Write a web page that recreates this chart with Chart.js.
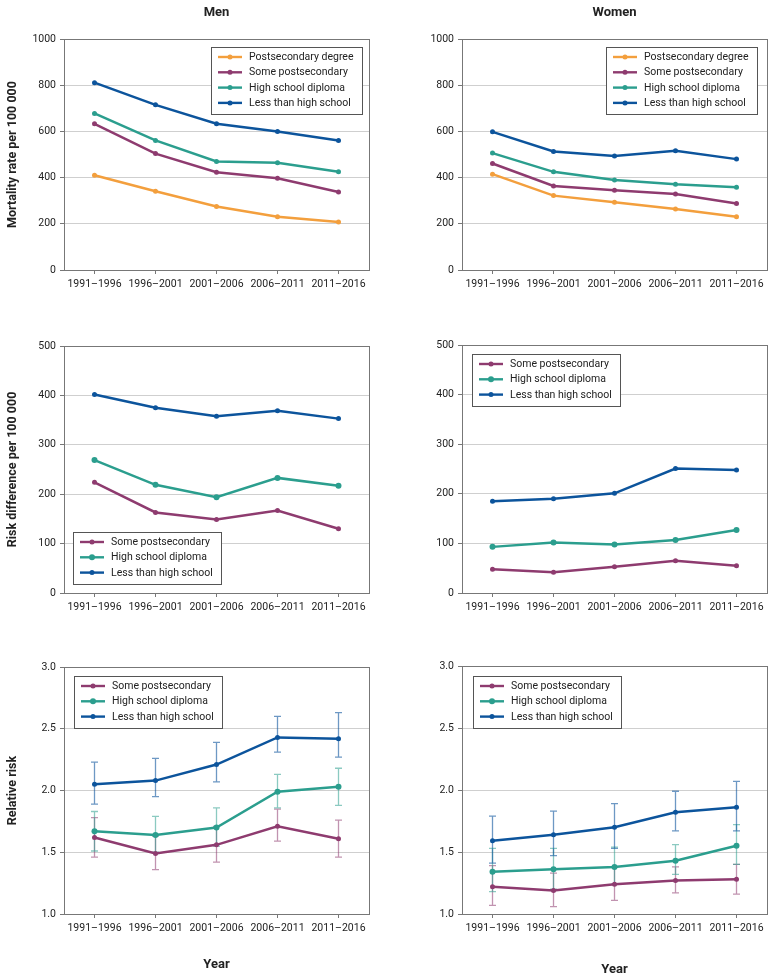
<!DOCTYPE html>
<html>
<head>
<meta charset="utf-8">
<script src="https://cdn.jsdelivr.net/npm/chart.js@4.4.1/dist/chart.umd.min.js"></script>
<style>
  html, body { margin: 0; padding: 0; background: #fff; }
  #page { position: relative; width: 775px; height: 980px; background: #fff; }
  canvas { position: absolute; }
</style>
</head>
<body>
<div id="page">
  <canvas id="menRate" width="385" height="300" style="left:0;top:0"></canvas>
  <canvas id="womenRate" width="390" height="300" style="left:385px;top:0"></canvas>
  <canvas id="menRd" width="385" height="320" style="left:0;top:300px"></canvas>
  <canvas id="womenRd" width="390" height="320" style="left:385px;top:300px"></canvas>
  <canvas id="menRr" width="385" height="360" style="left:0;top:620px"></canvas>
  <canvas id="womenRr" width="390" height="360" style="left:385px;top:620px"></canvas>
</div>
<script>
// Data
const periods = ['1991–1996', '1996–2001', '2001–2006', '2006–2011', '2011–2016'];
const groups = ['Postsecondary degree', 'Some postsecondary', 'High school diploma', 'Less than high school'];
const groupColors = ['#F39F3D', '#8E3B6F', '#2B9E8E', '#0C549C'];
const errColors = ['rgba(243,159,61,0.6)', 'rgba(142,59,111,0.55)', 'rgba(43,158,142,0.55)', 'rgba(12,84,156,0.6)'];

const rateTicks = [0, 200, 400, 600, 800, 1000];
const rdTicks = [0, 100, 200, 300, 400, 500];
const rrTicks = [1.0, 1.5, 2.0, 2.5, 3.0];

// mortality rate per 100 000
const menRateDegree = [410, 341, 275, 231, 208];
const menRateSome = [633, 504, 423, 397, 338];
const menRateHigh = [678, 561, 470, 464, 425];
const menRateLess = [811, 715, 633, 600, 561];
const womenRateDegree = [415, 322, 293, 264, 231];
const womenRateSome = [461, 364, 345, 329, 288];
const womenRateHigh = [506, 425, 390, 371, 358];
const womenRateLess = [598, 513, 494, 516, 480];

// risk difference per 100 000
const menRdSome = [224, 163, 149, 167, 130];
const menRdHigh = [269, 219, 194, 233, 217];
const menRdLess = [402, 375, 358, 369, 353];
const womenRdSome = [48, 42, 53, 65, 55];
const womenRdHigh = [93, 102, 98, 107, 127];
const womenRdLess = [185, 190, 201, 251, 248];

// relative risk with 95% CI
const menRrSome = [1.62, 1.49, 1.56, 1.71, 1.61];
const menRrSomeLo = [1.46, 1.36, 1.42, 1.59, 1.46];
const menRrSomeHi = [1.78, 1.63, 1.71, 1.85, 1.76];
const menRrHigh = [1.67, 1.64, 1.70, 1.99, 2.03];
const menRrHighLo = [1.51, 1.50, 1.55, 1.86, 1.88];
const menRrHighHi = [1.83, 1.79, 1.86, 2.13, 2.18];
const menRrLess = [2.05, 2.08, 2.21, 2.43, 2.42];
const menRrLessLo = [1.89, 1.95, 2.07, 2.31, 2.27];
const menRrLessHi = [2.23, 2.26, 2.39, 2.60, 2.63];
const womenRrSome = [1.22, 1.19, 1.24, 1.27, 1.28];
const womenRrSomeLo = [1.07, 1.06, 1.11, 1.17, 1.16];
const womenRrSomeHi = [1.39, 1.33, 1.38, 1.38, 1.40];
const womenRrHigh = [1.34, 1.36, 1.38, 1.43, 1.55];
const womenRrHighLo = [1.18, 1.20, 1.24, 1.32, 1.40];
const womenRrHighHi = [1.53, 1.53, 1.54, 1.56, 1.72];
const womenRrLess = [1.59, 1.64, 1.70, 1.82, 1.86];
const womenRrLessLo = [1.41, 1.47, 1.53, 1.67, 1.67];
const womenRrLessHi = [1.79, 1.83, 1.89, 1.99, 2.07];

Chart.defaults.font.family = "Roboto, 'Noto Sans', sans-serif";
Chart.defaults.font.size = 10.5;
Chart.defaults.color = '#222';

const AXIS = '#777';

// box round the plot area
const frame = {
  id: 'frame',
  beforeDatasetsDraw(chart) {
    const { ctx, chartArea: a } = chart;
    ctx.save();
    ctx.strokeStyle = AXIS;
    ctx.lineWidth = 1;
    ctx.strokeRect(Math.floor(a.left) + 0.5, Math.floor(a.top) + 0.5,
      Math.round(a.right - a.left), Math.round(a.bottom - a.top));
    ctx.restore();
  }
};

// vertical CI whiskers, placed with the y scale
const errorBars = {
  id: 'errorBars',
  beforeDatasetsDraw(chart) {
    const { ctx } = chart;
    const y = chart.scales.y;
    chart.data.datasets.forEach((ds, i) => {
      if (!ds.errLo) return;
      const meta = chart.getDatasetMeta(i);
      ctx.save();
      ctx.strokeStyle = ds.errColor;
      ctx.lineWidth = 1.3;
      meta.data.forEach((pt, j) => {
        const x = pt.x;
        const y1 = y.getPixelForValue(ds.errLo[j]);
        const y2 = y.getPixelForValue(ds.errHi[j]);
        ctx.beginPath();
        ctx.moveTo(x, y1); ctx.lineTo(x, y2);
        ctx.moveTo(x - 3.5, y1); ctx.lineTo(x + 3.5, y1);
        ctx.moveTo(x - 3.5, y2); ctx.lineTo(x + 3.5, y2);
        ctx.stroke();
      });
      ctx.restore();
    });
  }
};

// boxed legend inside the plot area
const boxLegend = {
  id: 'boxLegend',
  afterDraw(chart, args, opts) {
    if (!opts.corner) return;
    const { ctx, chartArea: a } = chart;
    const sets = chart.data.datasets;
    const rowH = 15.3, padX = 7, lineLen = 24, gap = 7, padY = 10;
    ctx.save();
    ctx.font = "10.5px Roboto, 'Noto Sans', sans-serif";
    const textW = Math.max(...sets.map(d => ctx.measureText(d.label).width));
    const w = Math.round(padX + lineLen + gap + textW + 8);
    const h = Math.round(padY * 2 + (sets.length - 1) * rowH + 1);
    const x = opts.corner[1] === 'r' ? a.right - opts.dx - w : a.left + opts.dx;
    const y = opts.corner[0] === 'b' ? a.bottom - opts.dy - h : a.top + opts.dy;
    ctx.fillStyle = '#fff';
    ctx.fillRect(x, y, w, h);
    ctx.strokeStyle = '#555';
    ctx.lineWidth = 1;
    ctx.strokeRect(Math.floor(x) + 0.5, Math.floor(y) + 0.5, w, h);
    sets.forEach((d, i) => {
      const cy = y + padY + i * rowH;
      ctx.strokeStyle = d.borderColor;
      ctx.lineWidth = 2.4;
      ctx.beginPath();
      ctx.moveTo(x + padX, cy); ctx.lineTo(x + padX + lineLen, cy);
      ctx.stroke();
      ctx.fillStyle = d.borderColor;
      ctx.beginPath();
      ctx.arc(x + padX + lineLen / 2, cy, d.pointRadius, 0, Math.PI * 2);
      ctx.fill();
      ctx.fillStyle = '#222';
      ctx.textBaseline = 'middle';
      ctx.fillText(d.label, x + padX + lineLen + gap, cy + 0.5);
    });
    ctx.restore();
  }
};

function line(g, values, lo, hi, r) {
  return {
    label: groups[g], data: values,
    borderColor: groupColors[g], backgroundColor: groupColors[g],
    borderWidth: 2.5, pointRadius: r || 2.5, pointBorderWidth: 0, tension: 0,
    errLo: lo, errHi: hi, errColor: errColors[g]
  };
}

function panel(id, cfg) {
  const ticks = cfg.ticks;
  new Chart(document.getElementById(id), {
    type: 'line',
    data: { labels: periods, datasets: cfg.series },
    plugins: [frame, errorBars, boxLegend],
    options: {
      responsive: false, animation: false, devicePixelRatio: 1,
      layout: { padding: { top: cfg.top, right: cfg.right, left: 0, bottom: 0 } },
      plugins: {
        legend: { display: false },
        tooltip: { enabled: false },
        title: {
          display: !!cfg.title, text: cfg.title, fullSize: false, color: '#222',
          font: { size: 13, weight: 'bold' }, padding: { top: 4.5, bottom: 18.9 }
        },
        boxLegend: cfg.legend
      },
      scales: {
        x: {
          offset: true,
          grid: { drawOnChartArea: false, tickLength: 4, tickColor: AXIS },
          border: { color: AXIS },
          ticks: { padding: 4, maxRotation: 0, autoSkip: false },
          title: {
            display: !!cfg.xTitle, text: cfg.xTitle, color: '#222',
            font: { size: 13, weight: 'bold' }, padding: { top: 0, bottom: cfg.xTitlePad || 0 }
          },
          afterFit: s => { s.height = cfg.xh; }
        },
        y: {
          min: ticks[0], max: ticks[ticks.length - 1],
          grid: { color: '#cfcfcf', tickLength: 4, tickColor: AXIS },
          border: { color: AXIS },
          ticks: { stepSize: ticks[1] - ticks[0], padding: 4, callback: cfg.fmt },
          title: {
            display: !!cfg.yTitle, text: cfg.yTitle, color: '#222',
            font: { size: 12.5, weight: 'bold' }, padding: { top: 5.5, bottom: 0 }
          },
          afterFit: s => { s.width = cfg.yw; }
        }
      }
    }
  });
}

const plain = v => String(v);
const oneDec = v => v.toFixed(1);

panel('menRate', {
  title: 'Men', top: 0, right: 16, yw: 64, xh: 30, ticks: rateTicks, fmt: plain,
  yTitle: 'Mortality rate per 100 000', legend: { corner: 'tr', dx: 7, dy: 8 },
  series: [line(0, menRateDegree), line(1, menRateSome), line(2, menRateHigh), line(3, menRateLess)]
});
panel('womenRate', {
  title: 'Women', top: 0, right: 8, yw: 77, xh: 30, ticks: rateTicks, fmt: plain,
  legend: { corner: 'tr', dx: 10, dy: 8 },
  series: [line(0, womenRateDegree), line(1, womenRateSome), line(2, womenRateHigh), line(3, womenRateLess)]
});
panel('menRd', {
  top: 46, right: 16, yw: 64, xh: 27, ticks: rdTicks, fmt: plain,
  yTitle: 'Risk difference per 100 000', legend: { corner: 'bl', dx: 9, dy: 9 },
  series: [line(1, menRdSome), line(2, menRdHigh, null, null, 3), line(3, menRdLess)]
});
panel('womenRd', {
  top: 45, right: 8, yw: 77, xh: 27, ticks: rdTicks, fmt: plain,
  legend: { corner: 'tl', dx: 10, dy: 9 },
  series: [line(1, womenRdSome), line(2, womenRdHigh, null, null, 3), line(3, womenRdLess)]
});
panel('menRr', {
  top: 47, right: 16, yw: 64, xh: 66, ticks: rrTicks, fmt: oneDec,
  yTitle: 'Relative risk', xTitle: 'Year', xTitlePad: 7, legend: { corner: 'tl', dx: 10, dy: 9 },
  series: [
    line(1, menRrSome, menRrSomeLo, menRrSomeHi),
    line(2, menRrHigh, menRrHighLo, menRrHighHi, 3),
    line(3, menRrLess, menRrLessLo, menRrLessHi)
  ]
});
panel('womenRr', {
  top: 46, right: 8, yw: 77, xh: 66, ticks: rrTicks, fmt: oneDec,
  xTitle: 'Year', xTitlePad: 2, legend: { corner: 'tl', dx: 11, dy: 10 },
  series: [
    line(1, womenRrSome, womenRrSomeLo, womenRrSomeHi),
    line(2, womenRrHigh, womenRrHighLo, womenRrHighHi, 3),
    line(3, womenRrLess, womenRrLessLo, womenRrLessHi)
  ]
});
</script>
</body>
</html>
